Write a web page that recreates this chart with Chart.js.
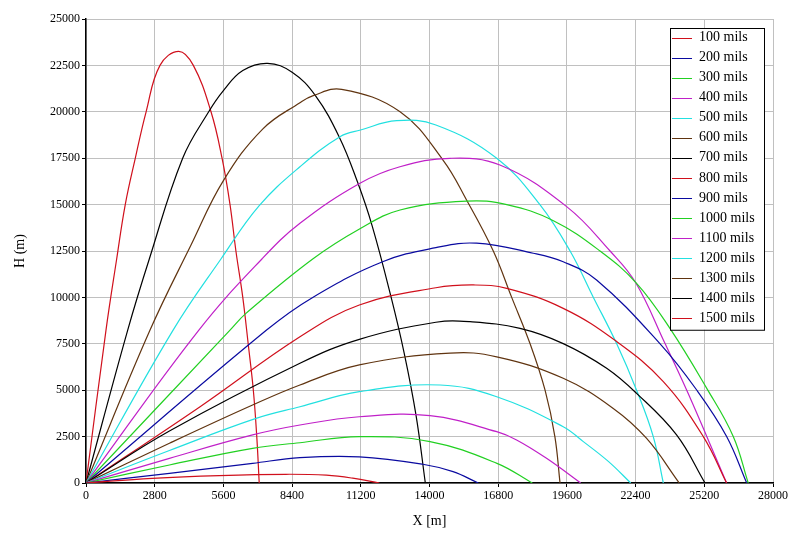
<!DOCTYPE html>
<html>
<head>
    <title>Trajectories</title>
    <script src="https://cdn.jsdelivr.net/npm/chart.js"></script>
    <style>
        body { margin: 0; background: #fff; }
    </style>
</head>
<body>
    <canvas id="mainChart" width="802" height="541"></canvas>
    <script>
        // elevation labels and line colours
        const labels = ['100 mils', '200 mils', '300 mils', '400 mils', '500 mils',
            '600 mils', '700 mils', '800 mils', '900 mils', '1000 mils',
            '1100 mils', '1200 mils', '1300 mils', '1400 mils', '1500 mils'];
        const colors = ['#d0101c', '#0a0aa0', '#22d022', '#c020c8', '#22e0e0',
            '#603410', '#000000', '#d0101c', '#0a0aa0', '#22d022',
            '#c020c8', '#22e0e0', '#603410', '#000000', '#d0101c'];

        // X [m] and H [m], one pair of arrays per curve
        const x100 = [0, 2700, 5430, 8150, 9800, 10870, 11960];
        const h100 = [0, 250, 400, 470, 420, 260, 0];
        const x200 = [0, 3400, 6790, 8720, 11140, 13730, 14960, 15990];
        const h200 = [0, 520, 1060, 1365, 1410, 1010, 610, 0];
        const x300 = [0, 3400, 6790, 8720, 11140, 14020, 16750, 18190];
        const h300 = [0, 970, 1870, 2170, 2500, 2230, 1060, 0];
        const x400 = [0, 3400, 6790, 8720, 11140, 14020, 16740, 17550, 18770, 20160];
        const h400 = [0, 1330, 2590, 3125, 3570, 3630, 2765, 2320, 1330, 0];
        const x500 = [0, 3400, 6930, 8720, 11140, 14430, 16740, 19450, 20270, 21300, 22200];
        const h500 = [0, 1750, 3480, 4110, 4920, 5280, 4650, 3035, 2230, 1150, 0];
        const x600 = [0, 3400, 6790, 8720, 11140, 14840, 16740, 19450, 21490, 22850, 24180];
        const h600 = [0, 2140, 4200, 5280, 6360, 7000, 6800, 5640, 4020, 2400, 0];
        const x700 = [0, 3400, 8720, 11140, 14260, 15650, 17690, 19450, 21220, 22440, 24070, 25230];
        const h700 = [0, 2800, 6450, 7740, 8660, 8690, 8330, 7510, 6180, 4830, 2590, 0];
        const x800 = [0, 4650, 8720, 11140, 14260, 15790, 17150, 19450, 21630, 23530, 25160, 26110];
        const h800 = [0, 4110, 7880, 9590, 10520, 10670, 10490, 9410, 7620, 5460, 2500, 0];
        const x900 = [0, 7360, 9240, 12090, 14260, 15920, 18230, 19450, 20810, 23390, 24890, 26110, 26930];
        const h900 = [0, 8240, 10000, 11920, 12680, 12920, 12380, 11920, 10940, 7510, 5010, 2510, 0];
        const x1000 = [0, 5870, 6520, 9240, 11165, 12800, 15510, 17150, 19050, 20950, 22440, 23800, 25300, 26380, 26990];
        const h1000 = [0, 8240, 9140, 12070, 13700, 14710, 15190, 15000, 14130, 12500, 10760, 8330, 5100, 2510, 0];
        const x1100 = [0, 4600, 7170, 8720, 11165, 12795, 14830, 16870, 19590, 21360, 22400, 23600, 24480, 25300, 26110];
        const h1100 = [0, 8240, 12070, 13990, 16150, 17040, 17495, 17130, 14890, 12500, 10800, 7510, 5010, 2510, 0];
        const x1200 = [0, 3550, 5500, 7060, 8720, 10350, 11190, 12660, 14260, 16740, 18500, 19730, 20680, 21630, 22440, 23120, 23530];
        const h1200 = [0, 8240, 12070, 14940, 17040, 18660, 19020, 19520, 19290, 17500, 15000, 12500, 10000, 7500, 5000, 2500, 0];
        const x1300 = [0, 2610, 4280, 5600, 7200, 8720, 9260, 10420, 12800, 14550, 15510, 16600, 17350, 18100, 18710, 19110, 19320];
        const h1300 = [0, 8240, 12820, 16290, 19070, 20490, 20875, 21210, 20000, 17400, 15250, 12500, 10000, 7500, 5000, 2500, 0];
        const x1400 = [0, 1700, 2580, 3940, 5000, 5600, 6390, 7400, 8400, 9350, 10330, 11070, 11660, 12430, 12970, 13450, 13830];
        const h1400 = [0, 8240, 12070, 17500, 20000, 21140, 22220, 22610, 22130, 20870, 18620, 16200, 13870, 10040, 6990, 3660, 0];
        const x1500 = [0, 815, 1250, 1600, 2010, 2450, 3015, 3780, 4375, 5095, 5545, 5870, 6110, 6390, 6610, 6820, 6960, 7060];
        const h1500 = [0, 8240, 12070, 15000, 17500, 20000, 22500, 23260, 22500, 20000, 17500, 15000, 12500, 10000, 7500, 5000, 2500, 0];

        const xs = [x100, x200, x300, x400, x500, x600, x700, x800, x900, x1000, x1100, x1200, x1300, x1400, x1500];
        const hs = [h100, h200, h300, h400, h500, h600, h700, h800, h900, h1000, h1100, h1200, h1300, h1400, h1500];

        const serif = '"Liberation Serif", "DejaVu Serif", serif';

        const datasets = labels.map((lab, i) => ({
            label: lab,
            data: xs[i].map((x, j) => ({ x: x, y: hs[i][j] })),
            borderColor: colors[i],
            borderWidth: 1.2,
            pointRadius: 0,
            fill: false,
            showLine: true,
            tension: 0.4
        }));

        // legend box drawn in the top right corner of the plot
        const boxLegend = {
            id: 'boxLegend',
            afterDraw(chart) {
                const ctx = chart.ctx;
                const left = 670, top = 28, w = 94, rowH = 20.05;
                const h = rowH * labels.length + 1;
                ctx.save();
                ctx.fillStyle = '#fff';
                ctx.fillRect(left, top, w, h);
                ctx.strokeStyle = '#000';
                ctx.lineWidth = 1;
                ctx.strokeRect(left + 0.5, top + 0.5, w, h);
                ctx.font = '14px ' + serif;
                ctx.textBaseline = 'middle';
                labels.forEach((lab, i) => {
                    const y = top + 9.5 + i * rowH;
                    ctx.strokeStyle = colors[i];
                    ctx.beginPath();
                    ctx.moveTo(672, Math.round(y) + 0.5);
                    ctx.lineTo(692, Math.round(y) + 0.5);
                    ctx.stroke();
                    ctx.fillStyle = '#000';
                    ctx.fillText(lab, 699, y);
                });
                ctx.restore();
            }
        };

        new Chart(document.getElementById('mainChart'), {
            type: 'scatter',
            data: { datasets: datasets },
            options: {
                responsive: false,
                animation: false,
                layout: { padding: { left: 0, right: 29, top: 19, bottom: 0 } },
                plugins: {
                    legend: { display: false },
                    tooltip: { enabled: false }
                },
                scales: {
                    x: {
                        type: 'linear',
                        min: 0,
                        max: 28000,
                        afterFit: s => { s.height = 58; },
                        ticks: {
                            stepSize: 2800,
                            color: '#000',
                            font: { family: serif, size: 12 },
                            maxRotation: 0,
                            padding: 2,
                            callback: v => String(v)
                        },
                        grid: { color: '#c0c0c0', tickColor: '#000', tickLength: 4 },
                        border: { color: '#000', width: 1.5 },
                        title: {
                            display: true,
                            text: 'X [m]',
                            color: '#000',
                            font: { family: serif, size: 14 },
                            padding: { top: 4, bottom: 11 }
                        }
                    },
                    y: {
                        type: 'linear',
                        min: 0,
                        max: 25000,
                        afterFit: s => { s.width = 86; },
                        ticks: {
                            stepSize: 2500,
                            color: '#000',
                            font: { family: serif, size: 12 },
                            padding: 2,
                            callback: v => String(v)
                        },
                        grid: { color: '#c0c0c0', tickColor: '#000', tickLength: 4 },
                        border: { color: '#000', width: 1.5 },
                        title: {
                            display: true,
                            text: 'H (m)',
                            color: '#000',
                            font: { family: serif, size: 14 },
                            padding: { top: 12, bottom: 4 }
                        }
                    }
                }
            },
            plugins: [boxLegend]
        });
    </script>
</body>
</html>
